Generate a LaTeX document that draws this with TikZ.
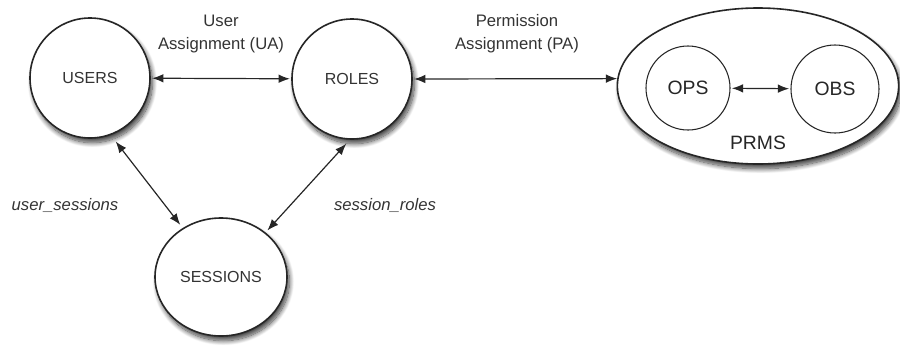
\documentclass[tikz,border=0pt]{standalone}
\usepackage{fontspec}
\setmainfont{Liberation Sans}
\usetikzlibrary{arrows.meta,shapes.geometric,shadows.blur}
\begin{document}
\begin{tikzpicture}[x=0.75pt,y=-0.75pt,
  softshadow/.style={blur shadow={shadow xshift=1.8pt,shadow yshift=-3.5pt,
      shadow blur radius=3.5pt,shadow blur steps=12,shadow opacity=75}},
  entity/.style={circle,draw=black!85,line width=1.2pt,fill=white,
      minimum size=90pt,inner sep=0pt,text=black!80,
      font=\fontsize{12}{14}\selectfont,softshadow},
  inner/.style={circle,draw=black!85,line width=0.8pt,fill=white,
      inner sep=0pt,text=black!85,font=\fontsize{14.5}{16}\selectfont},
  rellabel/.style={align=center,text=black!80,
      font=\fontsize{12.5}{17}\selectfont},
  maplabel/.style={text=black!80,font=\fontsize{12.5}{15}\selectfont\itshape},
  arr/.style={{Latex[length=8.5pt,width=6.5pt]}-{Latex[length=8.5pt,width=6.5pt]},
      line width=0.9pt,draw=black!85}
]
\useasboundingbox (0,0) rectangle (900,347);

% main entities
\node[entity] (users) at (90,78) {USERS};
\node[entity] (roles) at (352,79) {ROLES};
\node[entity,ellipse,minimum width=99pt,minimum height=88.5pt] (sessions) at (221,277) {SESSIONS};

% permission set with operations and objects
\node[ellipse,draw=black!85,line width=1.2pt,fill=white,minimum width=211pt,
      minimum height=117pt,inner sep=0pt,softshadow] (prms) at (758,86) {};
\node[inner,minimum size=63pt] (ops) at (688,88) {OPS};
\node[inner,minimum size=66pt] (obs) at (835,89) {OBS};
\node[text=black!85,font=\fontsize{14.5}{16}\selectfont] (prmslabel) at (758,143) {PRMS};

% relations
\draw[arr,shorten <=1pt,shorten >=1pt] (users) -- (roles);
\draw[arr,shorten <=1pt] (roles.east) -- (prms.177);
\draw[arr,shorten <=1pt,shorten >=1pt] (ops) -- (obs);
\draw[arr,shorten <=6pt,shorten >=3pt] (users.-70) -- (sessions.128);
\draw[arr,shorten <=4pt,shorten >=2pt] (roles.-92) -- (sessions.45);

% labels
\node[rellabel] (ualabel) at (221,34) {User\\Assignment (UA)};
\node[rellabel] (palabel) at (517,34) {Permission\\Assignment (PA)};
\node[maplabel] (uslabel) at (65,205) {user\_sessions};
\node[maplabel] (srlabel) at (385,205) {session\_roles};
\end{tikzpicture}
\end{document}
